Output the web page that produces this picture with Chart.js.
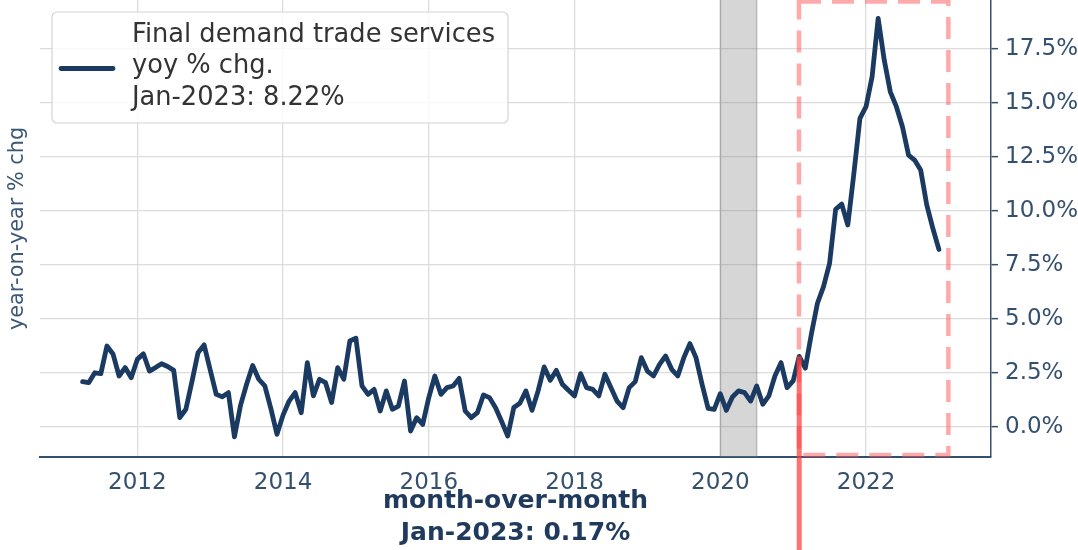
<!DOCTYPE html>
<html><head><meta charset="utf-8">
<script src="https://cdn.jsdelivr.net/npm/chart.js@4.4.0/dist/chart.umd.min.js"></script>
<style>html,body{margin:0;padding:0;background:#fff;overflow:hidden}canvas{display:block}</style>
</head><body>
<canvas id="c" width="1078" height="550"></canvas>
<script>
// ---- data ----
const firstMonth = [2011, 4]; // April 2011, monthly series
const yoy = [
  2.10, 2.05, 2.51, 2.47, 3.75, 3.38, 2.36, 2.75, 2.28,              // 2011 Apr-Dec
  3.13, 3.39, 2.59, 2.75, 2.93, 2.80, 2.62, 0.43, 0.82, 2.10, 3.44, 3.80, // 2012
  2.65, 1.51, 1.40, 1.59, -0.46, 1.00, 1.98, 2.85, 2.21, 1.90, 0.85, -0.34, // 2013
  0.55, 1.20, 1.59, 0.66, 2.98, 1.44, 2.21, 2.05, 1.13, 2.75, 2.21, 3.98, // 2014
  4.11, 1.90, 1.51, 1.74, 0.74, 1.67, 0.82, 0.97, 2.13, -0.19, 0.43, 0.12, // 2015
  1.36, 2.36, 1.51, 1.82, 1.90, 2.25, 0.74, 0.43, 0.66, 1.48, 1.36, 0.89, // 2016
  0.25, -0.42, 0.90, 1.10, 1.67, 0.77, 1.67, 2.78, 2.16, 2.62, 1.98, 1.70, // 2017
  1.44, 2.47, 1.82, 1.74, 1.44, 2.44, 1.82, 1.20, 0.89, 1.82, 2.10, 3.21, // 2018
  2.59, 2.36, 2.90, 3.29, 2.67, 2.36, 3.21, 3.86, 3.21, 1.98, 0.86, 0.82, // 2019
  1.54, 0.77, 1.39, 1.67, 1.59, 1.20, 1.90, 1.05, 1.44, 2.36, 2.98, 1.82, // 2020
  2.13, 3.27, 2.72, 4.30, 5.73, 6.50, 7.58, 10.08, 10.32, 9.35, 11.74, 14.29, // 2021
  14.83, 16.22, 18.92, 16.99, 15.52, 14.83, 13.90, 12.59, 12.36, 11.90, 10.28, 9.20, // 2022
  8.22 // 2023 Jan
];
const xTickYears = [2012, 2014, 2016, 2018, 2020, 2022];
const yTickValues = [0, 2.5, 5, 7.5, 10, 12.5, 15, 17.5];
const recessionSpan = [2020.0, 2020.5];
const highlightSpanX = [2021.08, 2023.13];
const highlightSpanY = [-1.3, 19.7];
const markerMonth = '2021-02';
const legendLines = ['Final demand trade services', 'yoy % chg.', 'Jan-2023: 8.22%'];
const bottomLines = ['month-over-month', 'Jan-2023: 0.17%'];
const yTitle = 'year-on-year % chg';

// ---- build ----
const months = yoy.map((_, i) => {
  const m0 = firstMonth[1] - 1 + i;
  const yr = firstMonth[0] + Math.floor(m0 / 12);
  const mo = (m0 % 12) + 1;
  return yr + '-' + String(mo).padStart(2, '0');
});
const toYear = s => { const [a, b] = s.split('-').map(Number); return a + (b - 1) / 12; };
const points = months.map((m, i) => ({ x: toYear(m), y: yoy[i] }));

const FONT = 'DejaVu Sans';
const AX = '#34506f';
const LINE = '#1b3a61';

const overlay = {
  id: 'overlay',
  beforeDatasetsDraw(chart) {
    const { ctx, chartArea: a, scales: { x } } = chart;
    const x0 = x.getPixelForValue(recessionSpan[0]), x1 = x.getPixelForValue(recessionSpan[1]);
    ctx.save();
    ctx.fillStyle = 'rgba(128,128,128,0.32)';
    ctx.fillRect(x0, a.top, x1 - x0, a.bottom - a.top);
    ctx.strokeStyle = 'rgba(110,110,110,0.35)';
    ctx.lineWidth = 1.5;
    ctx.beginPath();
    ctx.moveTo(x0, a.top); ctx.lineTo(x0, a.bottom);
    ctx.moveTo(x1, a.top); ctx.lineTo(x1, a.bottom);
    ctx.stroke();
    ctx.restore();
  },
  afterDatasetsDraw(chart) {
    const { ctx, scales: { x, y } } = chart;
    ctx.save();
    // dashed highlight box
    const rx0 = x.getPixelForValue(highlightSpanX[0]), rx1 = x.getPixelForValue(highlightSpanX[1]);
    const ry0 = y.getPixelForValue(highlightSpanY[1]), ry1 = y.getPixelForValue(highlightSpanY[0]);
    ctx.strokeStyle = 'rgba(255,85,85,0.5)';
    ctx.lineWidth = 4.5;
    ctx.setLineDash([22, 11]);
    ctx.strokeRect(rx0, ry0, rx1 - rx0, ry1 - ry0);
    ctx.setLineDash([]);
    // solid marker line
    const mi = months.indexOf(markerMonth);
    const mx = x.getPixelForValue(toYear(markerMonth));
    const my = y.getPixelForValue(yoy[mi]);
    ctx.strokeStyle = 'rgba(255,60,60,0.72)';
    ctx.lineWidth = 5;
    ctx.beginPath();
    ctx.moveTo(mx, my); ctx.lineTo(mx, chart.height);
    ctx.stroke();
    ctx.restore();
  },
  afterDraw(chart) {
    const { ctx, chartArea: a } = chart;
    ctx.save();
    // legend
    const bx = 52, by = 12, bw = 456, bh = 111;
    ctx.beginPath();
    ctx.roundRect(bx, by, bw, bh, 5);
    ctx.fillStyle = 'rgba(255,255,255,0.8)';
    ctx.fill();
    ctx.strokeStyle = '#d4d4d4';
    ctx.lineWidth = 1.2;
    ctx.stroke();
    ctx.strokeStyle = LINE;
    ctx.lineWidth = 4.8;
    ctx.lineCap = 'round';
    ctx.beginPath();
    ctx.moveTo(61, 68.5); ctx.lineTo(113, 68.5);
    ctx.stroke();
    ctx.fillStyle = '#333333';
    ctx.font = '25.7px "' + FONT + '"';
    ctx.textAlign = 'left';
    ctx.textBaseline = 'alphabetic';
    legendLines.forEach((t, i) => ctx.fillText(t, 132, 41.5 + i * 31.8));
    // y title
    ctx.save();
    ctx.translate(23, (a.top + a.bottom) / 2);
    ctx.rotate(-Math.PI / 2);
    ctx.fillStyle = '#3b5878';
    ctx.font = '20.8px "' + FONT + '"';
    ctx.textAlign = 'center';
    ctx.fillText(yTitle, 0, 0);
    ctx.restore();
    // bottom text
    ctx.fillStyle = '#1f3a5c';
    ctx.font = 'bold 25px "' + FONT + '"';
    ctx.textAlign = 'center';
    const cx = (a.left + a.right) / 2;
    bottomLines.forEach((t, i) => ctx.fillText(t, cx, 508 + i * 32));
    ctx.restore();
  }
};

new Chart(document.getElementById('c'), {
  type: 'line',
  data: {
    datasets: [{
      data: points,
      borderColor: LINE,
      borderWidth: 4.8,
      borderCapStyle: 'round',
      borderJoinStyle: 'round',
      pointRadius: 0,
      tension: 0,
      fill: false
    }]
  },
  options: {
    responsive: false,
    animation: false,
    devicePixelRatio: 1,
    layout: { padding: { left: 40, top: 0, right: 0, bottom: 0 } },
    plugins: { legend: { display: false }, tooltip: { enabled: false } },
    scales: {
      x: {
        type: 'linear',
        position: 'bottom',
        min: 2010.665,
        max: 2023.715,
        afterBuildTicks: ax => { ax.ticks = xTickYears.map(v => ({ value: v })); },
        afterFit: ax => { ax.height = 93; ax.paddingLeft = 0; ax.paddingRight = 0; },
        grid: { color: '#dcdcdc', lineWidth: 1.3, drawTicks: false },
        border: { display: true, color: AX, width: 2 },
        ticks: {
          color: AX, padding: 12, maxRotation: 0, autoSkip: false,
          font: { family: FONT, size: 23 },
          callback: v => String(v)
        }
      },
      y: {
        type: 'linear',
        position: 'right',
        min: -1.39,
        max: 19.77,
        afterBuildTicks: ax => { ax.ticks = yTickValues.map(v => ({ value: v })); },
        afterFit: ax => { ax.width = 87; ax.paddingTop = 0; ax.paddingBottom = 0; },
        grid: { color: '#dcdcdc', lineWidth: 1.3, drawTicks: true, tickLength: 7, tickColor: AX, tickWidth: 1.5 },
        border: { display: true, color: AX, width: 1.5 },
        ticks: {
          color: AX, padding: 7, autoSkip: false,
          font: { family: FONT, size: 23 },
          callback: v => v.toFixed(1) + '%'
        }
      }
    }
  },
  plugins: [overlay]
});
</script>
</body></html>
